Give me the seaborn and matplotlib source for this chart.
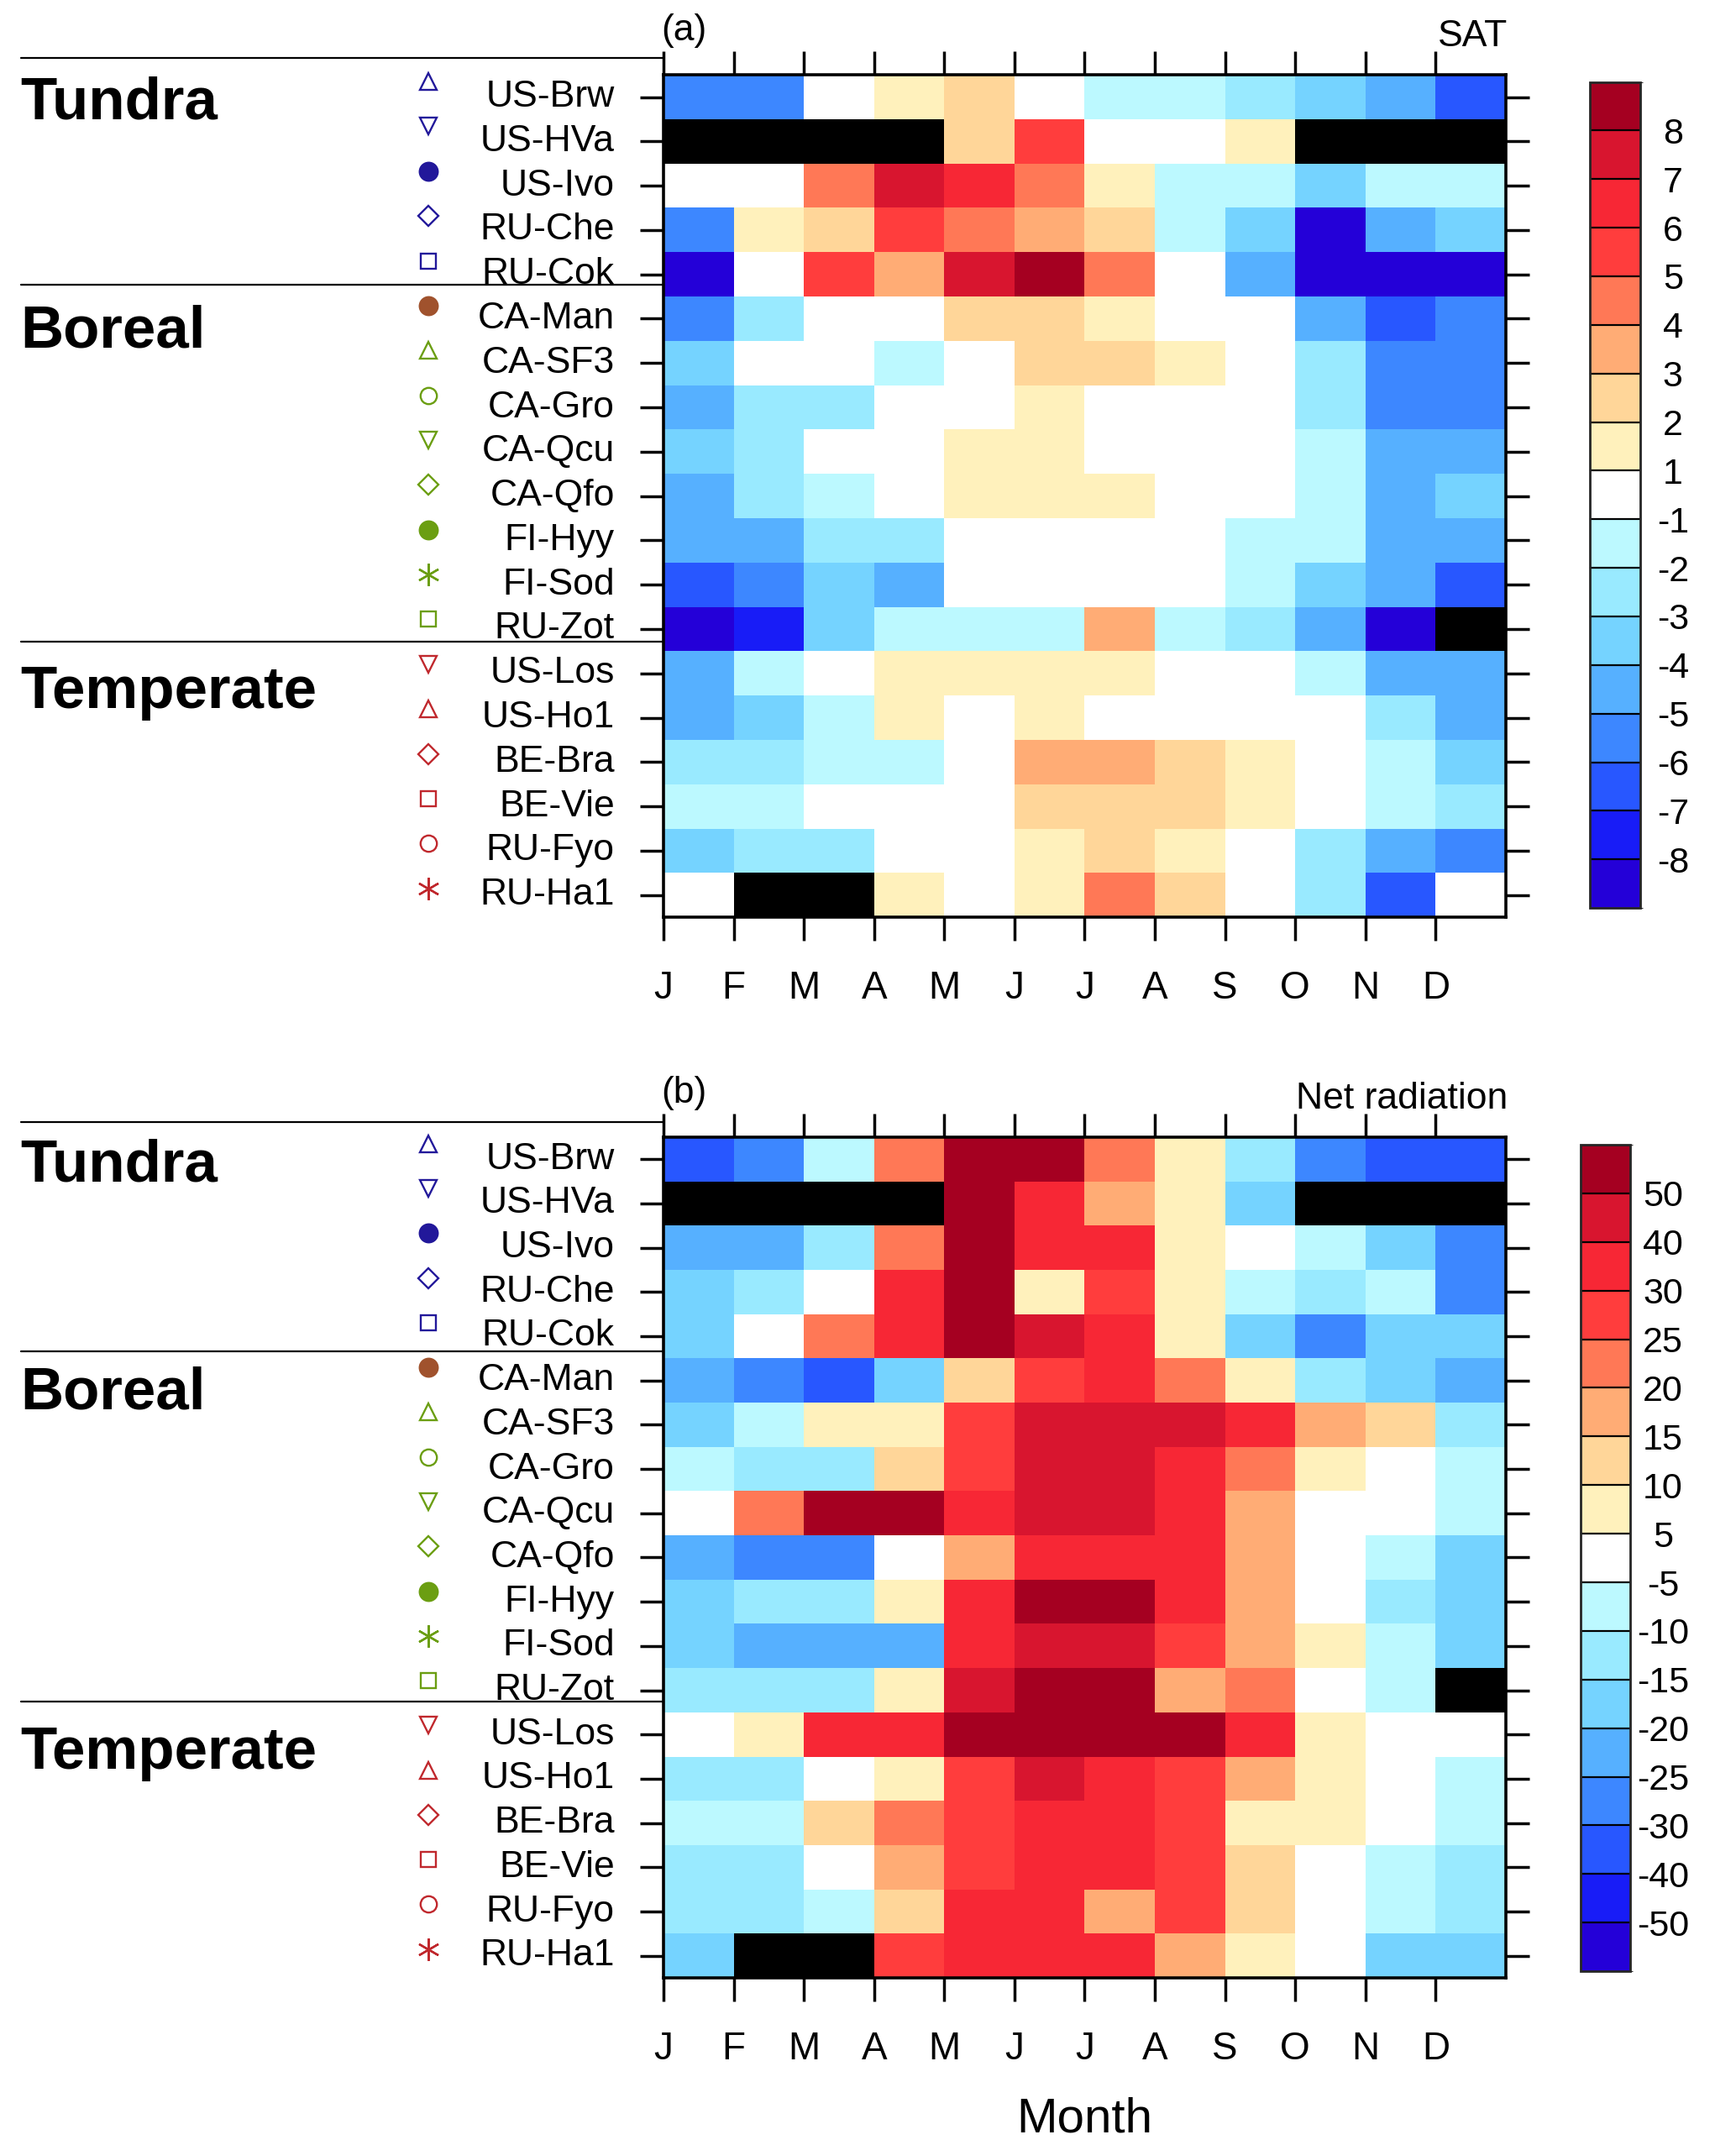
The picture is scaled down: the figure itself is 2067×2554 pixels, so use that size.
import numpy as np
import pandas as pd
import matplotlib
matplotlib.use("Agg")
import matplotlib.pyplot as plt
import matplotlib.transforms as mtransforms
from matplotlib.colors import ListedColormap, BoundaryNorm
from matplotlib.cm import ScalarMappable
from matplotlib.lines import Line2D
import seaborn as sns

sns.set_style("white")
plt.rcParams['font.family'] = ['Liberation Sans', 'DejaVu Sans']
plt.rcParams['text.color'] = 'black'
plt.rcParams['axes.labelcolor'] = 'black'
plt.rcParams['xtick.color'] = 'black'
plt.rcParams['ytick.color'] = 'black'

nan = np.nan

# ---------------- data ----------------
months = ["J", "F", "M", "A", "M", "J", "J", "A", "S", "O", "N", "D"]
sites = ["US-Brw", "US-HVa", "US-Ivo", "RU-Che", "RU-Cok",
         "CA-Man", "CA-SF3", "CA-Gro", "CA-Qcu", "CA-Qfo", "FI-Hyy", "FI-Sod", "RU-Zot",
         "US-Los", "US-Ho1", "BE-Bra", "BE-Vie", "RU-Fyo", "RU-Ha1"]
groups = ["Tundra", "Boreal", "Temperate"]

sat_levels = [-8, -7, -6, -5, -4, -3, -2, -1, 1, 2, 3, 4, 5, 6, 7, 8]
net_levels = [-50, -40, -30, -25, -20, -15, -10, -5, 5, 10, 15, 20, 25, 30, 40, 50]

# SAT anomalies (panel a), estimated from colour classes; nan = missing
sat = [
    [-5.5, -5.5, 0, 1.5, 2.5, 0, -1.5, -1.5, -2.5, -3.5, -4.5, -6.5],
    [nan, nan, nan, nan, 2.5, 5.5, 0, 0, 1.5, nan, nan, nan],
    [0, 0, 4.5, 7.5, 6.5, 4.5, 1.5, -1.5, -1.5, -3.5, -1.5, -1.5],
    [-5.5, 1.5, 2.5, 5.5, 4.5, 3.5, 2.5, -1.5, -3.5, -8.5, -4.5, -3.5],
    [-8.5, 0, 5.5, 3.5, 7.5, 8.5, 4.5, 0, -4.5, -8.5, -8.5, -8.5],
    [-5.5, -2.5, 0, 0, 2.5, 2.5, 1.5, 0, 0, -4.5, -6.5, -5.5],
    [-3.5, 0, 0, -1.5, 0, 2.5, 2.5, 1.5, 0, -2.5, -5.5, -5.5],
    [-4.5, -2.5, -2.5, 0, 0, 1.5, 0, 0, 0, -2.5, -5.5, -5.5],
    [-3.5, -2.5, 0, 0, 1.5, 1.5, 0, 0, 0, -1.5, -4.5, -4.5],
    [-4.5, -2.5, -1.5, 0, 1.5, 1.5, 1.5, 0, 0, -1.5, -4.5, -3.5],
    [-4.5, -4.5, -2.5, -2.5, 0, 0, 0, 0, -1.5, -1.5, -4.5, -4.5],
    [-6.5, -5.5, -3.5, -4.5, 0, 0, 0, 0, -1.5, -3.5, -4.5, -6.5],
    [-8.5, -7.5, -3.5, -1.5, -1.5, -1.5, 3.5, -1.5, -2.5, -4.5, -8.5, nan],
    [-4.5, -1.5, 0, 1.5, 1.5, 1.5, 1.5, 0, 0, -1.5, -4.5, -4.5],
    [-4.5, -3.5, -1.5, 1.5, 0, 1.5, 0, 0, 0, 0, -2.5, -4.5],
    [-2.5, -2.5, -1.5, -1.5, 0, 3.5, 3.5, 2.5, 1.5, 0, -1.5, -3.5],
    [-1.5, -1.5, 0, 0, 0, 2.5, 2.5, 2.5, 1.5, 0, -1.5, -2.5],
    [-3.5, -2.5, -2.5, 0, 0, 1.5, 2.5, 1.5, 0, -2.5, -4.5, -5.5],
    [0, nan, nan, 1.5, 0, 1.5, 4.5, 2.5, 0, -2.5, -6.5, 0],
]

# Net radiation anomalies (panel b)
netrad = [
    [-35, -27.5, -7.5, 22.5, 55, 55, 22.5, 7.5, -12.5, -27.5, -35, -35],
    [nan, nan, nan, nan, 55, 35, 17.5, 7.5, -17.5, nan, nan, nan],
    [-22.5, -22.5, -12.5, 22.5, 55, 35, 35, 7.5, 0, -7.5, -17.5, -27.5],
    [-17.5, -12.5, 0, 35, 55, 7.5, 27.5, 7.5, -7.5, -12.5, -7.5, -27.5],
    [-17.5, 0, 22.5, 35, 55, 45, 35, 7.5, -17.5, -27.5, -17.5, -17.5],
    [-22.5, -27.5, -35, -17.5, 12.5, 27.5, 35, 22.5, 7.5, -12.5, -17.5, -22.5],
    [-17.5, -7.5, 7.5, 7.5, 27.5, 45, 45, 45, 35, 17.5, 12.5, -12.5],
    [-7.5, -12.5, -12.5, 12.5, 27.5, 45, 45, 35, 22.5, 7.5, 0, -7.5],
    [0, 22.5, 55, 55, 35, 45, 45, 35, 17.5, 0, 0, -7.5],
    [-22.5, -27.5, -27.5, 0, 17.5, 35, 35, 35, 17.5, 0, -7.5, -17.5],
    [-17.5, -12.5, -12.5, 7.5, 35, 55, 55, 35, 17.5, 0, -12.5, -17.5],
    [-17.5, -22.5, -22.5, -22.5, 35, 45, 45, 27.5, 17.5, 7.5, -7.5, -17.5],
    [-12.5, -12.5, -12.5, 7.5, 45, 55, 55, 17.5, 22.5, 0, -7.5, nan],
    [0, 7.5, 35, 35, 55, 55, 55, 55, 35, 7.5, 0, 0],
    [-12.5, -12.5, 0, 7.5, 27.5, 45, 35, 27.5, 17.5, 7.5, 0, -7.5],
    [-7.5, -7.5, 12.5, 22.5, 27.5, 35, 35, 27.5, 7.5, 7.5, 0, -7.5],
    [-12.5, -12.5, 0, 17.5, 27.5, 35, 35, 27.5, 12.5, 0, -7.5, -12.5],
    [-12.5, -12.5, -7.5, 12.5, 35, 35, 17.5, 27.5, 12.5, 0, -7.5, -12.5],
    [-17.5, nan, nan, 27.5, 35, 35, 35, 17.5, 7.5, 0, -17.5, -17.5],
]

# ---------------- styles ----------------
palette = ["#2400D8", "#181CF7", "#2857FF", "#3D87FF", "#56B0FF", "#75D3FF",
           "#99EAFF", "#BCF9FF", "#FFFFFF", "#FFF1BC", "#FFD699", "#FFAC75",
           "#FF7856", "#FF3D3D", "#F72735", "#D8152F", "#A50021"]
cmap = ListedColormap(palette)

NAVY, BROWN, GREEN, RED = "#22189A", "#A0522D", "#6B9E12", "#C0282D"
ASTER = (6, 2, 0)
marker_style = [("^", NAVY, False), ("v", NAVY, False), ("o", NAVY, True), ("D", NAVY, False), ("s", NAVY, False),
                ("o", BROWN, True), ("^", GREEN, False), ("o", GREEN, False), ("v", GREEN, False), ("D", GREEN, False),
                ("o", GREEN, True), (ASTER, GREEN, False), ("s", GREEN, False),
                ("v", RED, False), ("^", RED, False), ("D", RED, False), ("s", RED, False), ("o", RED, False),
                (ASTER, RED, False)]

fig = plt.figure(figsize=(20.67, 25.54), dpi=100)

panels = [
    dict(data=sat, levels=sat_levels, ext=1.0, ax=[0.3822, 0.5724, 0.4852, 0.3927],
         cax=[0.9158, 0.5767, 0.0290, 0.3851], tag="(a)", title="SAT",
         lines=[-0.39, 4.74, 12.79], xlabel=False),
    dict(data=netrad, levels=net_levels, ext=10.0, ax=[0.3822, 0.0779, 0.4852, 0.3920],
         cax=[0.9103, 0.0810, 0.0288, 0.3853], tag="(b)", title="Net radiation",
         lines=[-0.33, 4.85, 12.75], xlabel=True),
]

group_baselines = [1.0, 6.15, 14.28]

for p in panels:
    ax = fig.add_axes(p["ax"])
    bounds = [p["levels"][0] - p["ext"]] + p["levels"] + [p["levels"][-1] + p["ext"]]
    norm = BoundaryNorm(bounds, ncolors=len(palette))
    df = pd.DataFrame(p["data"], index=sites, columns=range(12))
    sns.heatmap(df, ax=ax, cmap=cmap, norm=norm, cbar=False, linewidths=0)
    ax.set_facecolor("black")

    for s in ax.spines.values():
        s.set_visible(True)
        s.set_linewidth(2.6)
        s.set_color("black")

    ax.set_xticks(np.arange(12))
    ax.set_xticklabels(months, rotation=0, fontsize=33, color="black")
    ax.set_yticks(np.arange(len(sites)) + 0.5)
    ax.set_yticklabels(sites, rotation=0, fontsize=32, color="black")
    ax.set_xlabel("")
    ax.set_ylabel("")
    ax.tick_params(axis="x", which="both", top=True, bottom=True, labeltop=False,
                   direction="out", length=20, width=2.5, pad=25, colors="black")
    ax.tick_params(axis="y", which="both", left=True, right=True, labelright=False,
                   direction="out", length=20, width=2.5, pad=22, colors="black")

    ax.text(-0.003, 1.041, p["tag"], transform=ax.transAxes, ha="left", va="baseline",
            fontsize=32, color="black")
    ax.text(1.002, 1.034, p["title"], transform=ax.transAxes, ha="right", va="baseline",
            fontsize=32, color="black")

    blend = mtransforms.blended_transform_factory(fig.transFigure, ax.transData)
    for yl in p["lines"]:
        fig.add_artist(Line2D([0.0119, p["ax"][0]], [yl, yl], transform=blend,
                              color="black", lw=1.6, clip_on=False))
    for g, yb in zip(groups, group_baselines):
        fig.text(0.0119, yb, g, transform=blend, fontsize=51, fontweight="bold",
                 ha="left", va="baseline", color="black")
    for i, (mk, col, filled) in enumerate(marker_style):
        ym = i + 0.15 + 0.011 * i
        ms = 15
        if mk == "D":
            ms = 12.5
        elif mk == "s":
            ms = 13
        elif mk == "o" and filled:
            ms = 15.5
        elif mk == "o":
            ms = 14
        elif mk == ASTER:
            ms = 19
        fig.add_artist(Line2D([0.2467], [ym], transform=blend, marker=mk, ms=ms,
                              mec=col, mfc=col if filled else "none", mew=1.7,
                              linestyle="none", clip_on=False))

    cax = fig.add_axes(p["cax"])
    sm = ScalarMappable(norm=norm, cmap=cmap)
    cb = fig.colorbar(sm, cax=cax, spacing="uniform", ticks=p["levels"], drawedges=True)
    cb.outline.set_linewidth(2.0)
    cb.dividers.set_linewidth(1.6)
    cb.dividers.set_color("black")
    cax.set_yticks(p["levels"])
    cax.set_yticklabels([str(v) for v in p["levels"]], fontsize=31, color="black")
    cax.tick_params(axis="y", length=0, pad=28)
    for t in cax.get_yticklabels():
        t.set_ha("center")

    if p["xlabel"]:
        fig.text(p["ax"][0] + p["ax"][2] / 2, 0.0062, "Month", ha="center", va="baseline",
                 fontsize=42, color="black")

fig.savefig("out.png", dpi=100)
